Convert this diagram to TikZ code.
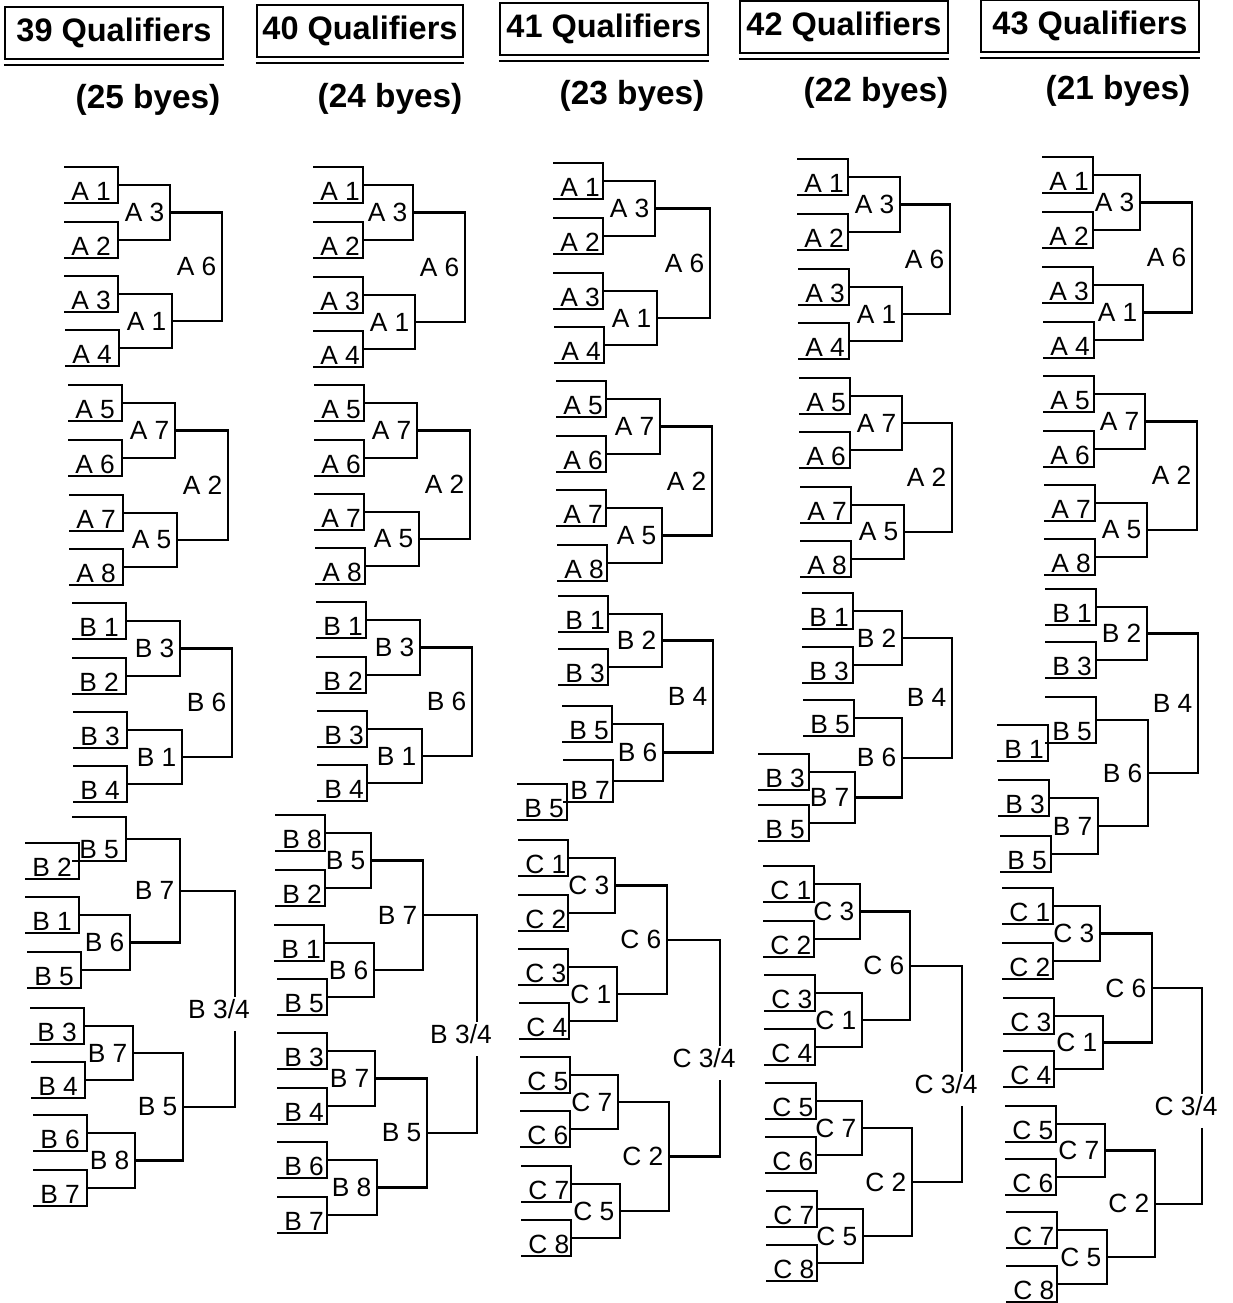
\documentclass[tikz,border=0pt]{standalone}
\usepackage{fontspec}
\setmainfont{Liberation Sans}
\usetikzlibrary{calc}
\newcommand{\seedw}{52}
% seed line: #1 half height, #2 name, #3 left x, #4 centre y, #5 text
\newcommand{\seed}[5][18]{%
  \draw[bline] (#3,#4-#1) -- (#3+\seedw,#4-#1) -- (#3+\seedw,#4+#1) -- (#3,#4+#1);
  \node[seedtxt] (#2t) at (#3+7,#4+#1-3) {#5};
  \coordinate (#2) at (#3+\seedw,#4);
  \coordinate (#2b) at (#3+\seedw,#4+#1);}
% match: #1 name, #2 upper, #3 lower, #4 x of the join, #5 text
\newcommand{\bout}[5]{%
  \coordinate (#1j) at (#4,0);
  \draw[bline] (#2) -- (#2 -| #1j) -- (#3 -| #1j) -- (#3);
  \coordinate (#1) at ($(#2 -| #1j)!.5!(#3 -| #1j)$);
  \node[wintxt] (#1t) at (#1) {#5};}
% third place: label sits in a gap of the join
\newcommand{\bronze}[5]{%
  \coordinate (#1j) at (#4,0);
  \coordinate (#1) at ($(#2 -| #1j)!.5!(#3 -| #1j)$);
  \node[thirdtxt] (#1t) at ($(#1)+(-16,10)$) {#5};
  \draw[bline] (#2) -- (#2 -| #1j) -- ($(#1t.center -| #1j)+(0,-12)$);
  \draw[bline] ($(#1t.center -| #1j)+(0,22)$) -- (#3 -| #1j) -- (#3);}
% heading: #1 name, #2 #3 box centre, #4 box width, #5 count, #6 #7 byes centre, #8 byes
\newcommand{\heading}[8]{%
  \node[headbox,minimum width=#4*0.02cm] (#1) at (#2,#3) {#5 Qualifiers};
  \draw[headrule] ($(#1.south west)+(0,5)$) -- ($(#1.south east)+(0,5)$);
  \node[byestxt] (#1y) at (#6,#7) {(#8 byes)};}

\begin{document}
\begin{tikzpicture}[x=0.02cm,y=-0.02cm,
  bline/.style={line width=1.2pt},
  seedtxt/.style={anchor=base west,inner sep=0pt,font=\fontsize{15}{17}\selectfont},
  wintxt/.style={anchor=east,inner sep=0pt,xshift=-3pt,font=\fontsize{15}{17}\selectfont},
  thirdtxt/.style={inner sep=0pt,font=\fontsize{15}{17}\selectfont},
  headbox/.style={draw,line width=1.2pt,minimum height=1.04cm,inner sep=0pt,font=\fontsize{18.5}{20}\bfseries\selectfont},
  headrule/.style={line width=1.6pt},
  byestxt/.style={inner sep=0pt,font=\fontsize{19}{21}\bfseries\selectfont}]
\useasboundingbox (0,0) rectangle (1232,1303);
% ---- headings ----
\heading{h39}{114}{33}{218}{39}{148}{100}{25}
\heading{h40}{360}{31}{206}{40}{390}{99}{24}
\heading{h41}{604}{29}{208}{41}{632}{96}{23}
\heading{h42}{844}{27}{208}{42}{876}{93}{22}
\heading{h43}{1090}{26}{218}{43}{1118}{91}{21}
% ---- column 1: 39 qualifiers ----
\renewcommand{\seedw}{54}
\seed{q39sA1}{64}{185}{A 1}
\seed{q39sA2}{64}{240}{A 2}
\seed{q39sA3}{64}{294}{A 3}
\seed{q39sA4}{65}{348}{A 4}
\seed{q39sA5}{68}{403}{A 5}
\seed{q39sA6}{68}{458}{A 6}
\seed{q39sA7}{69}{513}{A 7}
\seed{q39sA8}{69}{567}{A 8}
\seed{q39sB1}{72}{621}{B 1}
\seed{q39sB2}{72}{676}{B 2}
\seed{q39sB3}{73}{730}{B 3}
\seed{q39sB4}{73}{784}{B 4}
\bout{q39mA3}{q39sA1}{q39sA2}{170}{A 3}
\bout{q39mA1}{q39sA3}{q39sA4}{172}{A 1}
\bout{q39mA6}{q39mA3}{q39mA1}{222}{A 6}
\bout{q39mA7}{q39sA5}{q39sA6}{175}{A 7}
\bout{q39mA5}{q39sA7}{q39sA8}{177}{A 5}
\bout{q39mA2}{q39mA7}{q39mA5}{228}{A 2}
\bout{q39mB3}{q39sB1}{q39sB2}{180}{B 3}
\bout{q39mB1}{q39sB3}{q39sB4}{182}{B 1}
\bout{q39mB6}{q39mB3}{q39mB1}{232}{B 6}
\seed[22]{q39sB5}{72}{839}{B 5}
\seed{q39sB2x}{25}{861}{B 2}
\draw[bline] (q39sB2x) -- (q39sB5b);
\seed{q39sB1x}{25}{915}{B 1}
\seed{q39sB5x}{27}{970}{B 5}
\seed{q39sB3x}{30}{1026}{B 3}
\seed{q39sB4x}{31}{1080}{B 4}
\seed{q39sB6x}{33}{1133}{B 6}
\seed{q39sB7x}{33}{1188}{B 7}
\bout{q39mB6c}{q39sB1x}{q39sB5x}{130}{B 6}
\bout{q39mB7c}{q39sB5}{q39mB6c}{180}{B 7}
\bout{q39mB7d}{q39sB3x}{q39sB4x}{133}{B 7}
\bout{q39mB8c}{q39sB6x}{q39sB7x}{135}{B 8}
\bout{q39mB5c}{q39mB7d}{q39mB8c}{183}{B 5}
\bronze{q39mB34}{q39mB7c}{q39mB5c}{235}{B 3/4}
% ---- column 2: 40 qualifiers ----
\renewcommand{\seedw}{50}
\seed{q40sA1}{313}{185}{A 1}
\seed{q40sA2}{313}{240}{A 2}
\seed{q40sA3}{313}{295}{A 3}
\seed{q40sA4}{313}{349}{A 4}
\seed{q40sA5}{314}{403}{A 5}
\seed{q40sA6}{314}{458}{A 6}
\seed{q40sA7}{314}{512}{A 7}
\seed{q40sA8}{315}{566}{A 8}
\seed{q40sB1}{316}{620}{B 1}
\seed{q40sB2}{316}{675}{B 2}
\seed{q40sB3}{317}{729}{B 3}
\seed{q40sB4}{317}{783}{B 4}
\bout{q40mA3}{q40sA1}{q40sA2}{413}{A 3}
\bout{q40mA1}{q40sA3}{q40sA4}{415}{A 1}
\bout{q40mA6}{q40mA3}{q40mA1}{465}{A 6}
\bout{q40mA7}{q40sA5}{q40sA6}{417}{A 7}
\bout{q40mA5}{q40sA7}{q40sA8}{419}{A 5}
\bout{q40mA2}{q40mA7}{q40mA5}{470}{A 2}
\bout{q40mB3}{q40sB1}{q40sB2}{420}{B 3}
\bout{q40mB1}{q40sB3}{q40sB4}{422}{B 1}
\bout{q40mB6}{q40mB3}{q40mB1}{472}{B 6}
\seed{q40sB8x}{275}{833}{B 8}
\seed{q40sB2x}{275}{888}{B 2}
\seed{q40sB1x}{274}{943}{B 1}
\seed{q40sB5x}{277}{997}{B 5}
\seed{q40sB3x}{277}{1051}{B 3}
\seed{q40sB4x}{277}{1106}{B 4}
\seed{q40sB6x}{277}{1160}{B 6}
\seed{q40sB7x}{277}{1215}{B 7}
\bout{q40mB5c}{q40sB8x}{q40sB2x}{371}{B 5}
\bout{q40mB6c}{q40sB1x}{q40sB5x}{374}{B 6}
\bout{q40mB7c}{q40mB5c}{q40mB6c}{423}{B 7}
\bout{q40mB7d}{q40sB3x}{q40sB4x}{375}{B 7}
\bout{q40mB8c}{q40sB6x}{q40sB7x}{377}{B 8}
\bout{q40mB5d}{q40mB7d}{q40mB8c}{427}{B 5}
\bronze{q40mB34}{q40mB7c}{q40mB5d}{477}{B 3/4}
% ---- column 3: 41 qualifiers ----
\seed{q41sA1}{553}{181}{A 1}
\seed{q41sA2}{553}{236}{A 2}
\seed{q41sA3}{553}{291}{A 3}
\seed{q41sA4}{554}{345}{A 4}
\seed{q41sA5}{556}{399}{A 5}
\seed{q41sA6}{556}{454}{A 6}
\seed{q41sA7}{556}{508}{A 7}
\seed{q41sA8}{557}{563}{A 8}
\seed{q41sB1}{558}{614}{B 1}
\seed{q41sB3}{558}{667}{B 3}
\seed{q41sB5}{562}{724}{B 5}
\seed[21]{q41sB7}{563}{781}{B 7}
\seed{q41sB5x}{517}{802}{B 5}
\draw[bline] (q41sB5x) -- (q41sB7b);
\bout{q41mA3}{q41sA1}{q41sA2}{655}{A 3}
\bout{q41mA1}{q41sA3}{q41sA4}{657}{A 1}
\bout{q41mA6}{q41mA3}{q41mA1}{710}{A 6}
\bout{q41mA7}{q41sA5}{q41sA6}{660}{A 7}
\bout{q41mA5}{q41sA7}{q41sA8}{662}{A 5}
\bout{q41mA2}{q41mA7}{q41mA5}{712}{A 2}
\bout{q41mB2}{q41sB1}{q41sB3}{662}{B 2}
\bout{q41mB6}{q41sB5}{q41sB7}{663}{B 6}
\bout{q41mB4}{q41mB2}{q41mB6}{713}{B 4}
\seed{q41sC1}{518}{858}{C 1}
\seed{q41sC2}{518}{913}{C 2}
\seed{q41sC3}{518}{967}{C 3}
\seed{q41sC4}{519}{1021}{C 4}
\seed{q41sC5}{520}{1075}{C 5}
\seed{q41sC6}{520}{1129}{C 6}
\seed{q41sC7}{521}{1184}{C 7}
\seed{q41sC8}{521}{1238}{C 8}
\bout{q41mC3}{q41sC1}{q41sC2}{615}{C 3}
\bout{q41mC1}{q41sC3}{q41sC4}{617}{C 1}
\bout{q41mC6}{q41mC3}{q41mC1}{667}{C 6}
\bout{q41mC7}{q41sC5}{q41sC6}{618}{C 7}
\bout{q41mC5}{q41sC7}{q41sC8}{620}{C 5}
\bout{q41mC2}{q41mC7}{q41mC5}{669}{C 2}
\bronze{q41mC34}{q41mC6}{q41mC2}{720}{C 3/4}
% ---- column 4: 42 qualifiers ----
\renewcommand{\seedw}{51}
\seed{q42sA1}{797}{177}{A 1}
\seed{q42sA2}{797}{232}{A 2}
\seed{q42sA3}{798}{287}{A 3}
\seed{q42sA4}{798}{341}{A 4}
\seed{q42sA5}{799}{396}{A 5}
\seed{q42sA6}{799}{450}{A 6}
\seed{q42sA7}{800}{505}{A 7}
\seed{q42sA8}{800}{559}{A 8}
\seed{q42sB1}{802}{611}{B 1}
\seed{q42sB3}{802}{665}{B 3}
\seed{q42sB5}{803}{718}{B 5}
\seed{q42sB3x}{758}{772}{B 3}
\seed{q42sB5x}{758}{823}{B 5}
\bout{q42mA3}{q42sA1}{q42sA2}{900}{A 3}
\bout{q42mA1}{q42sA3}{q42sA4}{902}{A 1}
\bout{q42mA6}{q42mA3}{q42mA1}{950}{A 6}
\bout{q42mA7}{q42sA5}{q42sA6}{902}{A 7}
\bout{q42mA5}{q42sA7}{q42sA8}{904}{A 5}
\bout{q42mA2}{q42mA7}{q42mA5}{952}{A 2}
\bout{q42mB2}{q42sB1}{q42sB3}{902}{B 2}
\bout{q42mB7}{q42sB3x}{q42sB5x}{855}{B 7}
\bout{q42mB6}{q42sB5}{q42mB7}{902}{B 6}
\bout{q42mB4}{q42mB2}{q42mB6}{952}{B 4}
\seed{q42sC1}{763}{884}{C 1}
\seed{q42sC2}{763}{939}{C 2}
\seed{q42sC3}{764}{993}{C 3}
\seed{q42sC4}{764}{1047}{C 4}
\seed{q42sC5}{765}{1101}{C 5}
\seed{q42sC6}{765}{1155}{C 6}
\seed{q42sC7}{766}{1209}{C 7}
\seed{q42sC8}{766}{1263}{C 8}
\bout{q42mC3}{q42sC1}{q42sC2}{860}{C 3}
\bout{q42mC1}{q42sC3}{q42sC4}{862}{C 1}
\bout{q42mC6}{q42mC3}{q42mC1}{910}{C 6}
\bout{q42mC7}{q42sC5}{q42sC6}{862}{C 7}
\bout{q42mC5}{q42sC7}{q42sC8}{863}{C 5}
\bout{q42mC2}{q42mC7}{q42mC5}{912}{C 2}
\bronze{q42mC34}{q42mC6}{q42mC2}{962}{C 3/4}
% ---- column 5: 43 qualifiers ----
\seed{q43sA1}{1042}{175}{A 1}
\seed{q43sA2}{1042}{230}{A 2}
\seed{q43sA3}{1042}{285}{A 3}
\seed{q43sA4}{1043}{340}{A 4}
\seed{q43sA5}{1043}{394}{A 5}
\seed{q43sA6}{1043}{449}{A 6}
\seed{q43sA7}{1044}{503}{A 7}
\seed{q43sA8}{1044}{557}{A 8}
\seed{q43sB1}{1045}{607}{B 1}
\seed{q43sB3}{1045}{660}{B 3}
\seed[23]{q43sB5}{1045}{720}{B 5}
\seed{q43sB1x}{997}{743}{B 1}
\draw[bline] (q43sB1x) -- (q43sB5b);
\seed{q43sB3x}{998}{798}{B 3}
\seed{q43sB5x}{1000}{854}{B 5}
\bout{q43mA3}{q43sA1}{q43sA2}{1140}{A 3}
\bout{q43mA1}{q43sA3}{q43sA4}{1143}{A 1}
\bout{q43mA6}{q43mA3}{q43mA1}{1192}{A 6}
\bout{q43mA7}{q43sA5}{q43sA6}{1145}{A 7}
\bout{q43mA5}{q43sA7}{q43sA8}{1147}{A 5}
\bout{q43mA2}{q43mA7}{q43mA5}{1197}{A 2}
\bout{q43mB2}{q43sB1}{q43sB3}{1147}{B 2}
\bout{q43mB7}{q43sB3x}{q43sB5x}{1098}{B 7}
\bout{q43mB6}{q43sB5}{q43mB7}{1148}{B 6}
\bout{q43mB4}{q43mB2}{q43mB6}{1198}{B 4}
\seed{q43sC1}{1002}{906}{C 1}
\seed{q43sC2}{1002}{961}{C 2}
\seed{q43sC3}{1003}{1016}{C 3}
\seed{q43sC4}{1003}{1069}{C 4}
\seed{q43sC5}{1005}{1124}{C 5}
\seed{q43sC6}{1005}{1177}{C 6}
\seed{q43sC7}{1006}{1230}{C 7}
\seed{q43sC8}{1006}{1284}{C 8}
\bout{q43mC3}{q43sC1}{q43sC2}{1100}{C 3}
\bout{q43mC1}{q43sC3}{q43sC4}{1103}{C 1}
\bout{q43mC6}{q43mC3}{q43mC1}{1152}{C 6}
\bout{q43mC7}{q43sC5}{q43sC6}{1105}{C 7}
\bout{q43mC5}{q43sC7}{q43sC8}{1107}{C 5}
\bout{q43mC2}{q43mC7}{q43mC5}{1155}{C 2}
\bronze{q43mC34}{q43mC6}{q43mC2}{1202}{C 3/4}
\end{tikzpicture}
\end{document}
